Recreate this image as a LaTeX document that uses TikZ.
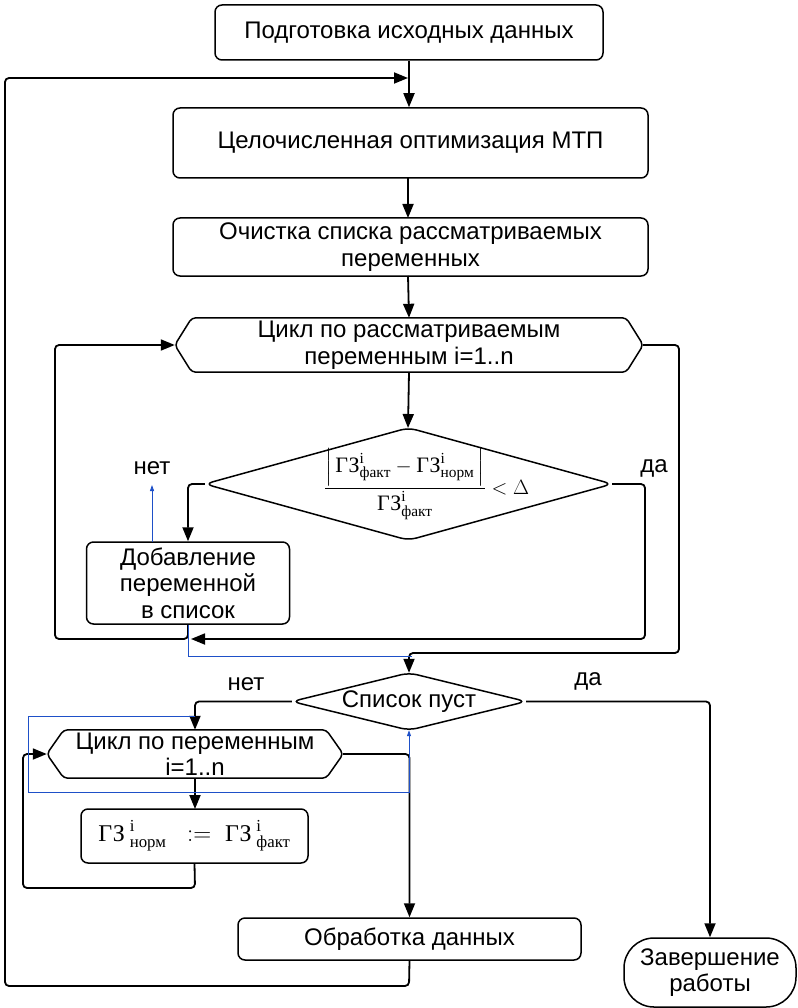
\documentclass[tikz,border=0pt]{standalone}
\usepackage{amsmath}
\usepackage{fontspec}
\setmainfont{Liberation Sans}
\newfontfamily\serifru{Liberation Serif}
\usetikzlibrary{arrows.meta}
\definecolor{blueln}{RGB}{30,80,200}
\newcommand{\GZ}{\text{\serifru ГЗ}}
\newcommand{\rs}[1]{\text{\serifru #1}}
\begin{document}
\begin{tikzpicture}[x=1pt,y=-1pt,
  box/.style={draw, line width=1.5pt, rounded corners=7pt, align=center, inner sep=0pt,
    font=\fontsize{24}{26.5}\selectfont},
  shp/.style={align=center, inner sep=0pt, font=\fontsize{24}{26.5}\selectfont},
  outline/.style={line width=1.5pt, rounded corners=4pt},
  conn/.style={line width=1.8pt, rounded corners=4pt, -{Triangle[length=14pt,width=11pt]}},
  bline/.style={draw=blueln, line width=0.9pt},
  barrow/.style={draw=blueln, line width=0.9pt, -{Triangle[length=6pt,width=4pt]}},
  lbl/.style={font=\fontsize{24}{26}\selectfont, inner sep=0pt}
]
\useasboundingbox (0,0) rectangle (797,1008);

% nodes
\node[box, minimum width=388pt, minimum height=55pt] (b1) at (409,32.5) {Подготовка исходных данных};
\node[box, minimum width=475pt, minimum height=70pt] (b2) at (410.5,143) {Целочисленная оптимизация МТП};
\node[box, minimum width=475pt, minimum height=58pt] (b3) at (410.5,247) {Очистка списка рассматриваемых\\переменных};

\node[shp, minimum width=468pt, minimum height=54pt] (h1) at (409,345) {Цикл по рассматриваемым\\переменным i=1..n};
\draw[outline] ([xshift=17pt]h1.north west) -- ([xshift=-17pt]h1.north east) -- (h1.east)
  -- ([xshift=-17pt]h1.south east) -- ([xshift=17pt]h1.south west) -- (h1.west) -- cycle;

\node[shp, minimum width=407pt, minimum height=112pt] (d1) at (408.5,484)
  {\hspace*{36pt}\fontsize{22}{26}\selectfont$\dfrac{\left|\,\GZ^{\rs{i}}_{\rs{факт}}-\GZ^{\rs{i}}_{\rs{норм}}\,\right|}{\GZ^{\rs{i}}_{\rs{факт}}}<\Delta$};
\draw[outline, rounded corners=8pt] (d1.north) -- (d1.east) -- (d1.south) -- (d1.west) -- cycle;

\node[box, minimum width=203pt, minimum height=82pt] (dob) at (188,583) {Добавление\\переменной\\в список};

\node[shp, minimum width=234pt, minimum height=57pt] (d2) at (409,701.5) {Список пуст};
\draw[outline, rounded corners=8pt] (d2.north) -- (d2.east) -- (d2.south) -- (d2.west) -- cycle;

\node[shp, minimum width=296pt, minimum height=48pt] (h2) at (195,754) {Цикл по переменным\\i=1..n};
\draw[outline] ([xshift=17pt]h2.north west) -- ([xshift=-17pt]h2.north east) -- (h2.east)
  -- ([xshift=-17pt]h2.south east) -- ([xshift=17pt]h2.south west) -- (h2.west) -- cycle;

\node[box, minimum width=227pt, minimum height=54pt] (gz) at (194.5,836)
  {\fontsize{24}{26}\selectfont$\GZ^{\;\rs{i}}_{\;\rs{норм}}\;\;:=\;\GZ^{\;\rs{i}}_{\;\rs{факт}}$};

\node[box, minimum width=343pt, minimum height=42pt] (obr) at (409.5,939) {Обработка данных};
\node[box, rounded corners=30pt, minimum width=172pt, minimum height=69pt] (zav) at (710,972.5) {Завершение\\работы};

% labels
\node[lbl] (l1) at (152,468) {нет};
\node[lbl] (l2) at (654,468) {да};
\node[lbl] (l3) at (246,684) {нет};
\node[lbl] (l4) at (588,681) {да};

% connectors
\draw[conn] (b1.south) -- (b1.south |- b2.north);
\draw[conn] (obr.south) -- (409,986) -- (5,986) -- (5,78) -- (408,78);
\draw[conn] (408,178) -- (408,218);
\draw[conn] (408,276) -- (h1.north);
\draw[conn] (h1.south) -- (408,428);
\draw[conn] (d1.west) -| (dob.north);
\draw[conn] (d1.east) -- (645,484) -- (645,639) -- (191,639);
\draw[conn] (dob.south) -- (188,639) -- (55,639) -- (55,345) -- (h1.west);
\draw[conn] (h1.east) -- (679,345) -- (679,653) -- (409,653) -- (d2.north);
\draw[conn] (d2.west) -| (h2.north);
\draw[conn] (d2.east) -| (zav.north);
\draw[conn] (h2.south) -- (195,809);
\draw[conn] (gz.south) -- (195,888) -- (23,888) -- (23,754) -- (h2.west);
\draw[conn] (h2.east) -| (obr.north);

% blue lines
\draw[bline] (dob.south) -- (188,656) -- (412,656);
\draw[barrow] (152,542) -- (152,485);
\draw[barrow] (195,716) -- (28,716) -- (28,792) -- (409,792) -- (d2.south);
\end{tikzpicture}
\end{document}
